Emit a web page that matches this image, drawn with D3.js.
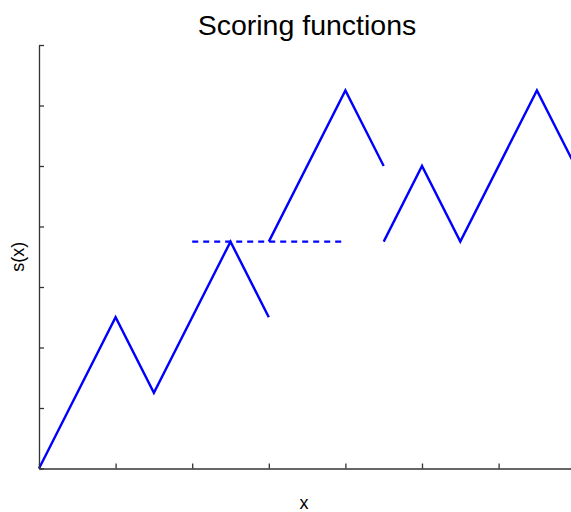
<!DOCTYPE html>
<html><head><meta charset="utf-8">
<script src="https://cdn.jsdelivr.net/npm/d3@7"></script>
<style>body{margin:0;background:#fff}svg{display:block}</style>
</head><body>
<script>
const title = "Scoring functions";
const xLabel = "x";
const yLabel = "s(x)";
const xTicks = [0,1,2,3,4,5,6,7];
const yTicks = [0,1,2,3,4,5,6,7];
const seg1X = [0, 1, 1.5, 2.5, 3];
const seg1Y = [0, 2.5, 1.25, 3.75, 2.5];
const seg2X = [3, 4, 4.5];
const seg2Y = [3.75, 6.25, 5];
const seg3X = [4.5, 5, 5.5, 6.5, 7];
const seg3Y = [3.75, 5, 3.75, 6.25, 5];
const dashX = [2, 4];
const dashY = [3.75, 3.75];

const W = 571, H = 512;
const svg = d3.select("body").append("svg").attr("width", W).attr("height", H);
const x = d3.scaleLinear().domain([0,7]).range([39, 575.2]);
const y = d3.scaleLinear().domain([0,7]).range([468.5, 45]);
const axisColor = "#333";

const line = d3.line().x(d=>x(d[0])).y(d=>y(d[1]));
const solid = [[seg1X,seg1Y],[seg2X,seg2Y],[seg3X,seg3Y]];
solid.forEach(([xs,ys])=>{
  svg.append("path").datum(xs.map((v,i)=>[v,ys[i]]))
    .attr("d", line).attr("fill","none").attr("stroke","#0000ff")
    .attr("stroke-width",2.4).attr("stroke-linejoin","miter");
});
svg.append("path").datum(dashX.map((v,i)=>[v,dashY[i]]))
  .attr("d", line).attr("fill","none").attr("stroke","#0000ff")
  .attr("stroke-width",2.4).attr("stroke-dasharray","6,5");

// axes
const gx = svg.append("g").attr("transform",`translate(0,${y(0)})`)
  .call(d3.axisBottom(x).tickValues(xTicks).tickSize(-5).tickSizeOuter(0).tickFormat(""));
const gy = svg.append("g").attr("transform",`translate(${x(0)},0)`)
  .call(d3.axisLeft(y).tickValues(yTicks).tickSize(-5).tickSizeOuter(0).tickFormat(""));
[gx,gy].forEach(g=>{
  g.selectAll("path,line").attr("stroke",axisColor).attr("stroke-width",1.3);
});

const font = "Liberation Sans, Arial, sans-serif";
svg.append("text").attr("x", 307).attr("y", 35)
  .attr("text-anchor","middle").attr("font-family",font)
  .attr("font-size",28.5).attr("fill","#000").text(title);
svg.append("text").attr("x", 304).attr("y", 509)
  .attr("text-anchor","middle").attr("font-family",font)
  .attr("font-size",18).attr("fill","#000").text(xLabel);
svg.append("text").attr("transform",`translate(24,${(y(0)+y(7))/2}) rotate(-90)`)
  .attr("text-anchor","middle").attr("font-family",font)
  .attr("font-size",18).attr("fill","#000").text(yLabel);
</script>
</body></html>
